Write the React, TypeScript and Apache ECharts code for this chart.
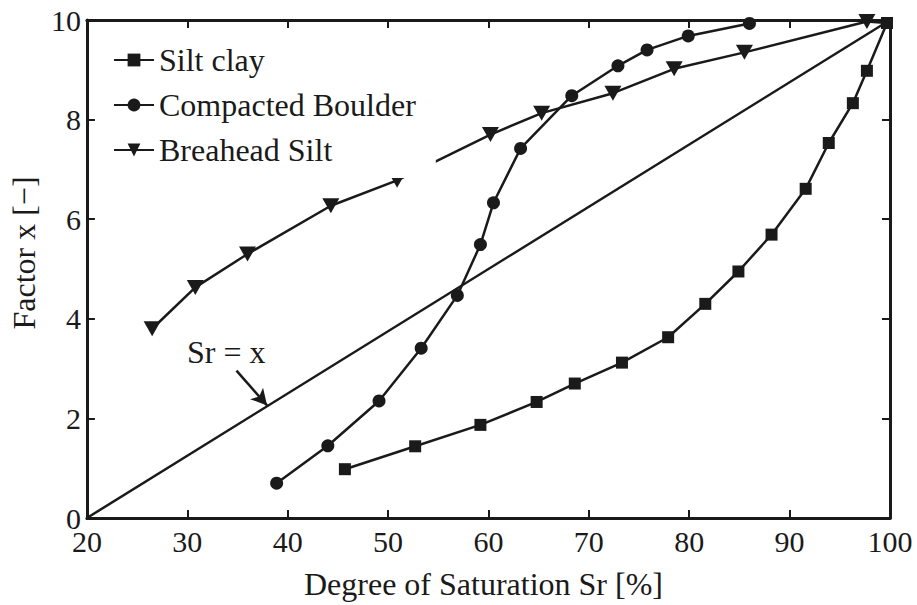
import React, { useEffect, useRef } from "react";
import * as echarts from "echarts";

const xTickMin = 20;
const xTickMax = 100;
const xTickStep = 10;
const yTickMin = 0;
const yTickMax = 10;
const yTickStep = 2;

const seriesNames = ["Silt clay", "Compacted Boulder", "Breahead Silt"];

const siltClayX = [45.7, 52.7, 59.2, 64.8, 68.6, 73.3, 77.9, 81.6, 84.9, 88.2, 91.6, 93.9, 96.3, 97.7, 99.7];
const siltClayY = [0.98, 1.44, 1.87, 2.33, 2.7, 3.12, 3.63, 4.3, 4.95, 5.69, 6.61, 7.53, 8.33, 8.98, 9.94];

const boulderX = [38.9, 44.0, 49.1, 53.3, 56.9, 59.2, 60.5, 63.2, 68.3, 72.9, 75.8, 79.9, 86.0];
const boulderY = [0.7, 1.45, 2.35, 3.41, 4.47, 5.49, 6.33, 7.42, 8.48, 9.08, 9.4, 9.68, 9.93];

const breaheadX = [26.5, 30.8, 36.0, 44.3, 50.9, 60.2, 65.3, 72.4, 78.5, 85.5, 97.7, 99.7];
const breaheadY = [3.8, 4.63, 5.3, 6.27, 6.78, 7.7, 8.13, 8.53, 9.02, 9.35, 9.97, 9.94];

const diagonalX = [20, 100];
const diagonalY = [0, 10];

const annotationText = "Sr = x";
const arrowFrom = [34.9, 2.96];
const arrowTo = [37.95, 2.26];

const xAxisTitle = "Degree of Saturation Sr [%]";
const yAxisTitle = "Factor x [\u2212]";

const INK = "#1a1a1a";
const FONT = "'Liberation Serif', 'Times New Roman', serif";

function zip(xs: number[], ys: number[]) {
  return xs.map((x, i) => [x, ys[i]]);
}

export default function App() {
  const ref = useRef<HTMLDivElement>(null);

  useEffect(() => {
    if (!ref.current) return;
    const chart = echarts.init(ref.current, null, { renderer: "svg" });

    const axisCommon = {
      axisLine: { show: true, onZero: false, lineStyle: { color: INK, width: 3 } },
      axisTick: { show: true, inside: true, length: 8, lineStyle: { color: INK, width: 2 } },
      splitLine: { show: false },
    };

    const breaheadData: any[] = zip(breaheadX, breaheadY).map((p, i, arr) =>
      i === arr.length - 1 ? { value: p, symbol: "none" } : p
    );

    chart.setOption({
      animation: false,
      backgroundColor: "#ffffff",
      grid: { left: 83, right: 27, top: 20, bottom: 85, containLabel: false },
      legend: {
        data: seriesNames,
        left: 105,
        top: 36,
        orient: "vertical",
        itemWidth: 40,
        itemHeight: 16,
        itemGap: 13,
        padding: [8, 20, 12, 8],
        backgroundColor: "#ffffff",
        borderWidth: 0,
        textStyle: { fontFamily: FONT, fontSize: 32, lineHeight: 32, color: INK },
        selectedMode: false,
      },
      xAxis: [
        {
          type: "value",
          min: xTickMin,
          max: xTickMax,
          interval: xTickStep,
          position: "bottom",
          ...axisCommon,
          axisLabel: { fontFamily: FONT, fontSize: 30, color: INK, margin: 8 },
          name: xAxisTitle,
          nameLocation: "middle",
          nameGap: 50,
          nameTextStyle: { fontFamily: FONT, fontSize: 32, lineHeight: 32, color: INK, padding: [0, 10, 0, 0] },
        },
        {
          type: "value",
          min: xTickMin,
          max: xTickMax,
          interval: xTickStep,
          position: "top",
          ...axisCommon,
          axisLabel: { show: false },
        },
      ],
      yAxis: [
        {
          type: "value",
          min: yTickMin,
          max: yTickMax,
          interval: yTickStep,
          position: "left",
          ...axisCommon,
          axisLabel: { fontFamily: FONT, fontSize: 30, color: INK, margin: 6 },
          name: yAxisTitle,
          nameLocation: "middle",
          nameGap: 40,
          nameTextStyle: { fontFamily: FONT, fontSize: 32, lineHeight: 32, color: INK, padding: [0, 0, 0, 32] },
        },
        {
          type: "value",
          min: yTickMin,
          max: yTickMax,
          interval: yTickStep,
          position: "right",
          ...axisCommon,
          axisLabel: { show: false },
        },
      ],
      series: [
        {
          name: "Sr = x",
          type: "line",
          data: zip(diagonalX, diagonalY),
          showSymbol: false,
          symbol: "none",
          lineStyle: { color: INK, width: 2.5 },
          z: 1,
          markLine: {
            silent: true,
            symbol: ["none", "arrow"],
            symbolSize: [13, 16],
            label: { show: false },
            lineStyle: { color: INK, width: 2.5, type: "solid" },
            data: [[{ coord: arrowFrom }, { coord: arrowTo }]],
          },
        },
        {
          name: seriesNames[0],
          type: "line",
          data: zip(siltClayX, siltClayY),
          symbol: "rect",
          symbolSize: 12,
          itemStyle: { color: INK },
          lineStyle: { color: INK, width: 2.5 },
          z: 3,
        },
        {
          name: seriesNames[1],
          type: "line",
          data: zip(boulderX, boulderY),
          symbol: "circle",
          symbolSize: 13,
          itemStyle: { color: INK },
          lineStyle: { color: INK, width: 2.5 },
          z: 3,
        },
        {
          name: seriesNames[2],
          type: "line",
          data: breaheadData,
          symbol: "path://M0,0 L17,0 L8.5,15 Z",
          symbolSize: [17, 15],
          itemStyle: { color: INK },
          lineStyle: { color: INK, width: 2.5 },
          z: 3,
        },
      ],
      graphic: [
        {
          type: "text",
          left: 187,
          top: 336,
          style: { text: annotationText, fontFamily: FONT, fontSize: 32, fill: INK },
        },
      ],
    });

    return () => chart.dispose();
  }, []);

  return (
    <div
      ref={ref}
      style={{ position: "fixed", left: 0, top: 0, width: 917, height: 605 }}
    />
  );
}
